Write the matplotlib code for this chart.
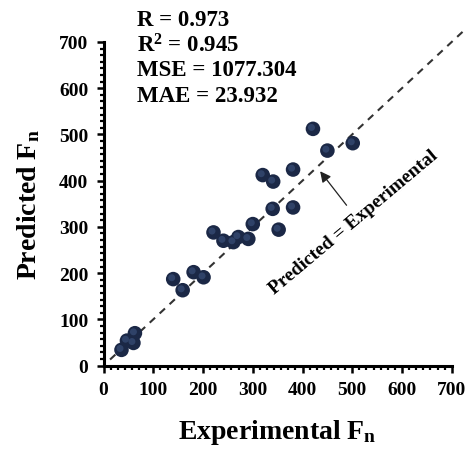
import numpy as np
import matplotlib
matplotlib.use('Agg')
import matplotlib.pyplot as plt
from matplotlib.ticker import AutoMinorLocator

plt.rcParams['font.family'] = 'Liberation Serif'
plt.rcParams['font.weight'] = 'bold'
plt.rcParams['mathtext.fontset'] = 'custom'
plt.rcParams['mathtext.rm'] = 'Liberation Serif:bold'
plt.rcParams['mathtext.it'] = 'Liberation Serif:bold'
plt.rcParams['mathtext.bf'] = 'Liberation Serif:bold'

# experimental vs predicted Fn
experimental = [36, 47, 63, 60, 140, 159, 181, 201, 221, 241, 261, 271,
                291, 300, 421, 450, 501, 381, 320, 341, 340, 381, 352]
predicted = [34, 54, 70, 49, 187, 163, 202, 191, 288, 270, 267, 278,
             274, 306, 512, 465, 481, 424, 412, 398, 339, 342, 294]

stats = ['R = 0.973', 'R$^2$ = 0.945', 'MSE = 1077.304', 'MAE = 23.932']
ticks = [0, 100, 200, 300, 400, 500, 600, 700]

fig = plt.figure(figsize=(4.73, 4.52), dpi=100)
ax = fig.add_axes([0.219, 0.189, 0.736, 0.716])

# y = x reference line
ax.plot([13, 724], [13, 724], ls=(0, (3.5, 3)), c='#333333', lw=1.5, clip_on=False, zorder=1)

# dark spheres
ax.scatter(experimental, predicted, s=110, c='#1b2846', edgecolors='none', zorder=3)
ax.scatter(np.array(experimental) - 3, np.array(predicted) + 3, s=25, c='#3d5580',
           edgecolors='none', alpha=0.6, zorder=4)

ax.set_xlim(0, 700)
ax.set_ylim(0, 700)
ax.set_xticks(ticks)
ax.set_yticks(ticks)
ax.xaxis.set_minor_locator(AutoMinorLocator(7))
ax.yaxis.set_minor_locator(AutoMinorLocator(7))
ax.tick_params(which='major', direction='out', length=5, width=1.8, labelsize=14, pad=6)
ax.tick_params(which='minor', direction='out', length=3, width=1.6)
for lab in ax.get_xticklabels() + ax.get_yticklabels():
    lab.set_fontweight('bold')

ax.spines['top'].set_visible(False)
ax.spines['right'].set_visible(False)
ax.spines['left'].set_linewidth(2.2)
ax.spines['bottom'].set_linewidth(2.2)

ax.set_xlabel('Experimental F$_{n}$', fontsize=20, fontweight='bold', labelpad=14)
ax.set_ylabel('Predicted F$_{n}$', fontsize=20, fontweight='bold', labelpad=12)

for i, s in enumerate(stats):
    ax.text(0.095, 1.07 - i * 0.078, s, transform=ax.transAxes, fontsize=16.5,
            fontweight='bold', va='center', ha='left')

ax.annotate('', xy=(432, 425), xytext=(492, 342),
            arrowprops=dict(arrowstyle='-|>', color='#222222', lw=0.9,
                            mutation_scale=16))
ax.text(503, 312, 'Predicted = Experimental', rotation=40, fontsize=14,
        fontweight='bold', ha='center', va='center', rotation_mode='anchor')

plt.savefig('out.png', dpi=100)
